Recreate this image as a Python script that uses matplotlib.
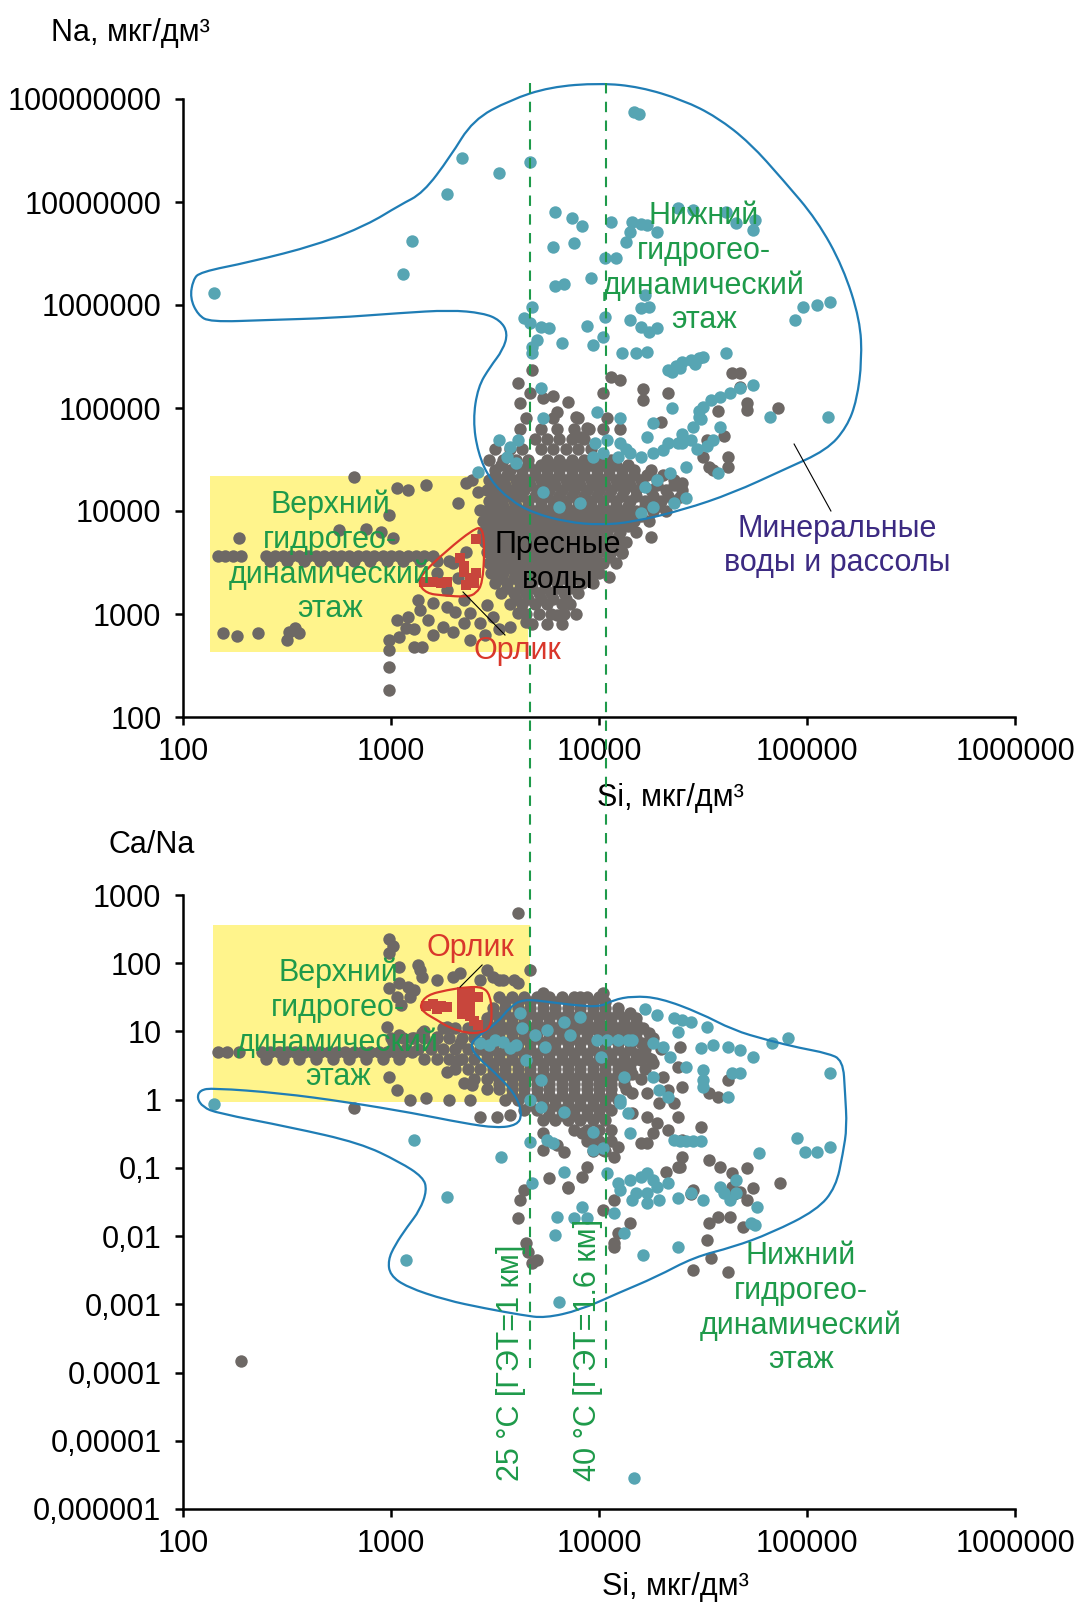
import numpy as np
import matplotlib.pyplot as plt
from matplotlib.lines import Line2D
from matplotlib.path import Path
from matplotlib.patches import PathPatch

plt.rcParams['font.family'] = ['Liberation Sans', 'DejaVu Sans']

# all values as log10 of the plotted quantity
# ---------------- upper chart: Si vs Na ----------------
top_cloud_rows = [  # (log Na, [log Si ...]) - dense grey cloud of fresh waters
    (4.9, [3.65, 3.78, 3.90, 4.04]),
    (4.8, [3.62, 3.72, 3.80, 3.88, 3.95, 4.02, 4.10]),
    (4.7, [3.69, 3.75, 3.81, 3.87, 3.93]),
    (4.6, [3.50, 3.57, 3.63, 3.72, 3.78, 3.84, 3.90, 3.96]),
    (4.5, [3.47, 3.54, 3.60, 3.66, 3.75, 3.81, 3.87, 3.93, 4.00, 4.06]),
    (4.45, [3.53, 3.60, 3.66, 3.72, 3.78, 3.84, 3.90, 3.96, 4.02, 4.08, 4.14]),
    (4.4, [3.50, 3.57, 3.63, 3.69, 3.75, 3.81, 3.87, 3.93, 3.99, 4.05, 4.11, 4.17, 4.25]),
    (4.35, [3.50, 3.56, 3.63, 3.69, 3.75, 3.81, 3.87, 3.93, 3.99, 4.05, 4.11, 4.17, 4.23, 4.31]),
    (4.3, [3.47, 3.53, 3.60, 3.66, 3.72, 3.78, 3.84, 3.90, 3.96, 4.02, 4.08, 4.14, 4.20, 4.28, 4.36]),
    (4.25, [3.49, 3.55, 3.61, 3.67, 3.73, 3.79, 3.85, 3.91, 3.97, 4.03, 4.09, 4.15, 4.21, 4.28, 4.36]),
    (4.2, [3.46, 3.52, 3.58, 3.64, 3.70, 3.76, 3.82, 3.88, 3.94, 4.00, 4.06, 4.12, 4.18, 4.25, 4.32, 4.40]),
    (4.15, [3.50, 3.56, 3.62, 3.69, 3.75, 3.81, 3.87, 3.93, 3.99, 4.05, 4.11, 4.18, 4.26, 4.33]),
    (4.1, [3.47, 3.53, 3.59, 3.66, 3.72, 3.78, 3.84, 3.90, 3.96, 4.02, 4.08, 4.15, 4.22, 4.30, 4.36]),
    (4.05, [3.48, 3.54, 3.60, 3.66, 3.72, 3.78, 3.84, 3.90, 3.96, 4.02, 4.08, 4.14, 4.22, 4.29]),
    (4.0, [3.45, 3.51, 3.57, 3.63, 3.69, 3.75, 3.81, 3.87, 3.93, 3.99, 4.05, 4.11, 4.18, 4.26, 4.32]),
    (3.95, [3.47, 3.53, 3.59, 3.65, 3.71, 3.77, 3.83, 3.89, 3.95, 4.01, 4.07, 4.14, 4.20]),
    (3.9, [3.44, 3.50, 3.56, 3.62, 3.68, 3.74, 3.80, 3.86, 3.92, 3.98, 4.04, 4.10, 4.17, 4.24]),
    (3.85, [3.47, 3.53, 3.59, 3.65, 3.71, 3.77, 3.83, 3.89, 3.95, 4.01, 4.07, 4.14]),
    (3.8, [3.44, 3.50, 3.56, 3.62, 3.68, 3.74, 3.80, 3.86, 3.92, 3.98, 4.04, 4.10, 4.18]),
    (3.75, [3.48, 3.54, 3.60, 3.66, 3.72, 3.78, 3.84, 3.90, 3.96, 4.02, 4.09]),
    (3.7, [3.45, 3.51, 3.57, 3.63, 3.69, 3.75, 3.81, 3.87, 3.93, 3.99, 4.05, 4.13]),
    (3.65, [3.49, 3.55, 3.61, 3.67, 3.73, 3.79, 3.85, 3.91, 3.97, 4.03, 4.08]),
    (3.6, [3.46, 3.52, 3.58, 3.64, 3.70, 3.76, 3.82, 3.88, 3.94, 4.00, 4.06, 4.11]),
    (3.55, [3.50, 3.56, 3.62, 3.68, 3.74, 3.80, 3.86, 3.92, 3.98, 4.05]),
    (3.5, [3.47, 3.53, 3.59, 3.65, 3.71, 3.77, 3.83, 3.89, 3.95, 4.02, 4.08]),
    (3.45, [3.51, 3.57, 3.63, 3.69, 3.75, 3.81, 3.87, 3.93, 3.98]),
    (3.4, [3.48, 3.54, 3.60, 3.66, 3.72, 3.78, 3.84, 3.90, 3.96, 4.00]),
    (3.35, [3.53, 3.59, 3.65, 3.71, 3.77, 3.83, 3.89, 3.94]),
    (3.3, [3.50, 3.56, 3.62, 3.68, 3.74, 3.80, 3.86, 3.92, 3.97]),
    (3.25, [3.56, 3.62, 3.68, 3.74, 3.80, 3.86]),
    (3.2, [3.53, 3.59, 3.65, 3.71, 3.77, 3.83, 3.90]),
    (3.15, [3.60, 3.66, 3.72, 3.78, 3.84]),
    (3.1, [3.57, 3.63, 3.69, 3.75, 3.82, 3.86]),
    (3.0, [3.65, 3.71, 3.77, 3.83, 3.89]),
    (2.9, [3.68, 3.75, 3.82]),
]
top_band_rows = [  # horizontal band inside the yellow field
    (3.56, [2.17, 2.20, 2.24, 2.28, 2.40, 2.44, 2.48, 2.52, 2.56, 2.60, 2.64, 2.68, 2.72,
            2.76, 2.80, 2.84, 2.88, 2.92, 2.96, 3.00, 3.04, 3.08, 3.12, 3.16, 3.20]),
    (3.51, [2.42, 2.50, 2.58, 2.66, 2.74, 2.82, 2.90, 2.98, 3.06, 3.14, 3.22, 3.28]),
]
top_gray_pts = [  # (log Si, log Na)
    (2.82, 4.33), (3.03, 4.22), (3.08, 4.20), (3.17, 4.25), (2.99, 3.96), (3.01, 3.74),
    (2.75, 3.82), (2.88, 3.83), (2.95, 3.80), (2.27, 3.74),
    (3.32, 4.08), (3.36, 4.27), (3.39, 4.30), (3.43, 4.01), (3.42, 4.18),
    (3.30, 3.50), (3.36, 3.60), (3.32, 3.35),
    (2.19, 2.82), (2.26, 2.79), (2.36, 2.82), (2.51, 2.83), (2.56, 2.82), (2.50, 2.75), (2.54, 2.86),
    (2.99, 2.75), (2.99, 2.65), (2.99, 2.49), (2.99, 2.26),
    (3.04, 2.78), (3.11, 2.85), (3.15, 2.68), (3.20, 2.80), (3.25, 2.87), (3.30, 2.83), (3.35, 2.91),
    (3.38, 3.01), (3.43, 2.91), (3.49, 2.97), (3.52, 2.85), (3.20, 3.11), (3.27, 3.07), (3.14, 3.04),
    (3.08, 2.97), (3.03, 2.94), (3.11, 2.68), (3.22, 3.40), (3.27, 3.23), (3.35, 3.14), (3.13, 3.14),
    (3.18, 2.94), (3.07, 2.86), (3.31, 3.02), (3.38, 2.75), (3.45, 2.80), (3.46, 3.09), (3.57, 2.87),
    (3.65, 2.92), (3.61, 3.01), (3.80, 2.99),
    (3.61, 5.24), (3.62, 5.05), (3.67, 5.15), (3.68, 5.37), (3.85, 5.06), (3.80, 4.96), (3.89, 4.91),
    (3.94, 4.81), (3.91, 4.72), (4.02, 5.15), (4.06, 5.30), (4.10, 5.27), (4.21, 5.18), (4.21, 5.08),
    (4.33, 5.15), (4.30, 4.86), (4.40, 4.69), (4.52, 4.69), (4.53, 4.43), (4.55, 4.40), (4.62, 4.52),
    (4.62, 4.43), (4.64, 5.34), (4.68, 5.34), (4.68, 5.20), (4.86, 5.00), (4.71, 5.05), (4.71, 4.98),
    (4.40, 4.27), (4.39, 4.14), (4.25, 3.75), (4.11, 3.59), (4.05, 3.36),
    (3.73, 5.10), (3.78, 5.12), (4.57, 4.97), (4.60, 4.73), (4.50, 4.52),
]
top_teal_pts = [
    (2.15, 6.12), (3.06, 6.30), (3.10, 6.62), (3.27, 7.08), (3.34, 7.43), (3.52, 7.28), (3.67, 7.39),
    (4.17, 7.87), (4.19, 7.85),
    (3.79, 6.90), (3.87, 6.84), (3.92, 6.77), (3.78, 6.56), (3.88, 6.60), (3.79, 6.18), (3.83, 6.20),
    (3.96, 6.26), (4.06, 6.81), (4.03, 6.46), (4.08, 6.46), (4.16, 6.81), (4.20, 6.79), (4.23, 6.78),
    (4.15, 6.71), (4.13, 6.61), (4.28, 6.71),
    (4.38, 6.94), (4.45, 6.92), (4.61, 6.90), (4.66, 6.80), (4.74, 6.73), (4.75, 6.83),
    (4.22, 6.10), (4.20, 5.97), (4.24, 5.98), (4.15, 5.85), (4.20, 5.79), (4.24, 5.74), (4.28, 5.78),
    (4.11, 5.53), (4.18, 5.53), (4.23, 5.54),
    (4.03, 5.88), (4.02, 5.69), (3.94, 5.80), (3.97, 5.61), (3.82, 5.63),
    (3.68, 5.98), (3.64, 5.87), (3.67, 5.83), (3.72, 5.79), (3.76, 5.78), (3.70, 5.66), (3.68, 5.53),
    (3.68, 5.59),
    (4.98, 5.98), (5.05, 6.00), (5.11, 6.03), (4.94, 5.85), (4.61, 5.53),
    (4.33, 5.37), (4.37, 5.41), (4.40, 5.45), (4.44, 5.47), (4.48, 5.49), (4.50, 5.50), (4.35, 5.35),
    (4.39, 5.39), (4.46, 5.43),
    (4.74, 5.22), (4.68, 5.19), (4.63, 5.15), (4.58, 5.11), (4.54, 5.08), (4.50, 5.01), (4.48, 4.91),
    (4.45, 4.82), (4.44, 4.69), (4.40, 4.66),
    (4.38, 4.66), (4.31, 4.59), (4.26, 4.56), (4.20, 4.52), (4.15, 4.56), (4.09, 4.52), (4.02, 4.56),
    (3.97, 4.52), (4.23, 4.72), (4.26, 4.85),
    (4.10, 4.90), (3.99, 4.96), (4.35, 5.00), (4.82, 4.91), (5.10, 4.91), (3.73, 4.90), (3.72, 5.19),
    (3.52, 4.69), (3.57, 4.62), (3.61, 4.69), (3.56, 4.52), (3.60, 4.47), (3.42, 4.38),
    (3.73, 4.18), (3.81, 4.04), (3.91, 4.08),
    (4.22, 4.23), (4.28, 4.30), (4.34, 4.37), (4.42, 4.43), (4.57, 4.37), (4.58, 4.82),
    (4.20, 3.98), (4.26, 4.04), (4.36, 4.08), (4.42, 4.13),
    (4.48, 4.97), (4.49, 4.89), (4.40, 4.75), (4.33, 4.66), (4.47, 4.60), (4.52, 4.63), (4.55, 4.69),
    (3.98, 4.66), (4.04, 4.69), (4.10, 4.66), (4.13, 4.60),
]
top_orlik_pts = [
    (3.16, 3.31), (3.20, 3.31), (3.24, 3.30), (3.27, 3.31),
    (3.33, 3.54), (3.35, 3.47), (3.35, 3.41), (3.38, 3.35), (3.40, 3.30), (3.36, 3.28),
    (3.41, 3.40), (3.41, 3.73),
]
top_contour = [
    (2.048, 6.243), (2.082, 6.320), (2.322, 6.417), (2.644, 6.583), (2.885, 6.777), (3.043, 6.971),
    (3.154, 7.087), (3.284, 7.437), (3.394, 7.796), (3.572, 7.990), (3.764, 8.117), (4.005, 8.155),
    (4.197, 8.117), (4.404, 7.990), (4.567, 7.825), (4.726, 7.573), (4.885, 7.214), (5.048, 6.825),
    (5.173, 6.369), (5.255, 5.854), (5.264, 5.466), (5.240, 5.078), (5.192, 4.816), (5.096, 4.592),
    (4.885, 4.398), (4.644, 4.175), (4.404, 4.010), (4.163, 3.893), (4.005, 3.864), (3.846, 3.893),
    (3.683, 3.981), (3.572, 4.107), (3.476, 4.301), (3.418, 4.563), (3.394, 4.883), (3.418, 5.204),
    (3.476, 5.398), (3.538, 5.563), (3.562, 5.728), (3.524, 5.854), (3.442, 5.922), (3.284, 5.951),
    (3.043, 5.922), (2.721, 5.874), (2.404, 5.854), (2.130, 5.835), (2.072, 5.903), (2.034, 6.068),
]
top_orlik_contour = [
    (3.13, 3.30), (3.154, 3.40), (3.27, 3.62), (3.394, 3.82), (3.44, 3.845), (3.45, 3.62),
    (3.44, 3.30), (3.41, 3.20), (3.365, 3.165), (3.25, 3.18), (3.17, 3.20),
]
top_yellow = (2.13, 3.66, 2.631, 4.34)

# ---------------- lower chart: Si vs Ca/Na ----------------
bot_cloud_rows = [  # (log Ca/Na, [log Si ...])
    (1.5, [3.03, 3.09, 3.52, 3.58, 3.64, 3.70, 3.76, 3.82, 3.88, 3.94, 4.00]),
    (1.425, [3.55, 3.61, 3.67, 3.73, 3.79, 3.85, 3.91, 3.97, 4.03]),
    (1.35, [3.49, 3.55, 3.61, 3.67, 3.73, 3.79, 3.85, 3.91, 3.97, 4.03, 4.09]),
    (1.275, [3.49, 3.55, 3.61, 3.67, 3.73, 3.79, 3.85, 3.91, 3.97, 4.03, 4.09, 4.15]),
    (1.2, [3.46, 3.52, 3.58, 3.64, 3.70, 3.76, 3.82, 3.88, 3.94, 4.00, 4.06, 4.12, 4.18]),
    (1.125, [3.46, 3.52, 3.58, 3.64, 3.70, 3.76, 3.82, 3.88, 3.94, 4.00, 4.06, 4.12, 4.18]),
    (1.05, [3.25, 3.31, 3.37, 3.43, 3.49, 3.55, 3.61, 3.67, 3.73, 3.79, 3.85, 3.91, 3.97, 4.03,
            4.09, 4.15, 4.21]),
    (0.975, [3.40, 3.46, 3.52, 3.58, 3.64, 3.70, 3.76, 3.82, 3.88, 3.94, 4.00, 4.06, 4.12, 4.18,
             4.24]),
    (0.9, [3.00, 3.06, 3.11, 3.16, 3.22, 3.28, 3.34, 3.40, 3.46, 3.52, 3.58, 3.64, 3.70, 3.76,
           3.82, 3.88, 3.94, 4.00, 4.06, 4.12, 4.18, 4.26]),
    (0.825, [3.43, 3.49, 3.55, 3.61, 3.67, 3.73, 3.79, 3.85, 3.91, 3.97, 4.03, 4.09, 4.15, 4.22]),
    (0.75, [3.01, 3.07, 3.13, 3.19, 3.25, 3.31, 3.37, 3.43, 3.49, 3.55, 3.61, 3.67, 3.73, 3.79,
            3.85, 3.91, 3.97, 4.03, 4.09, 4.15, 4.22, 4.30]),
    (0.675, [3.46, 3.52, 3.58, 3.64, 3.70, 3.76, 3.82, 3.88, 3.94, 4.00, 4.06, 4.12, 4.18]),
    (0.6, [3.16, 3.22, 3.28, 3.34, 3.40, 3.46, 3.52, 3.58, 3.64, 3.70, 3.76, 3.82, 3.88, 3.94,
           4.00, 4.06, 4.12, 4.18, 4.25]),
    (0.525, [3.49, 3.55, 3.61, 3.67, 3.73, 3.79, 3.85, 3.91, 3.97, 4.03, 4.09, 4.15]),
    (0.45, [3.31, 3.37, 3.43, 3.49, 3.55, 3.61, 3.67, 3.73, 3.79, 3.85, 3.91, 3.97, 4.03, 4.09,
            4.15, 4.22]),
    (0.375, [3.49, 3.55, 3.61, 3.67, 3.73, 3.79, 3.85, 3.91, 3.97, 4.03, 4.09, 4.16]),
    (0.3, [3.40, 3.46, 3.52, 3.58, 3.64, 3.70, 3.76, 3.82, 3.88, 3.94, 4.00, 4.06, 4.12, 4.20]),
    (0.225, [3.52, 3.58, 3.64, 3.70, 3.76, 3.82, 3.88, 3.94, 4.00, 4.06, 4.12]),
    (0.15, [3.46, 3.52, 3.58, 3.64, 3.70, 3.76, 3.82, 3.88, 3.94, 4.00, 4.06, 4.13]),
    (0.075, [3.58, 3.64, 3.70, 3.76, 3.82, 3.88, 3.94, 4.00, 4.06]),
    (0.0, [3.55, 3.61, 3.67, 3.73, 3.79, 3.85, 3.91, 3.97, 4.03, 4.09]),
    (-0.075, [3.67, 3.73, 3.79, 3.85, 3.91, 3.97, 4.03]),
    (-0.15, [3.64, 3.70, 3.76, 3.82, 3.88, 3.94, 4.00, 4.06]),
    (-0.225, [3.76, 3.82, 3.88, 3.94, 4.00]),
    (-0.3, [3.73, 3.79, 3.85, 3.91, 3.97, 4.03]),
    (-0.45, [3.88, 3.94, 4.00, 4.06]),
    (-0.6, [3.94, 4.00, 4.06]),
    (-0.75, [3.97, 4.03]),
]
bot_band_rows = [
    (0.70, [2.17, 2.21, 2.27, 2.38, 2.42, 2.46, 2.50, 2.54, 2.58, 2.62, 2.66, 2.70, 2.74, 2.78,
            2.82, 2.86, 2.90, 2.94, 2.98, 3.02, 3.06, 3.10]),
    (0.60, [2.40, 2.48, 2.56, 2.64, 2.72, 2.80, 2.88, 2.96, 3.04]),
]
bot_gray_pts = [  # (log Si, log Ca/Na)
    (3.61, 2.74), (2.99, 2.36), (2.99, 2.15), (3.01, 2.25), (3.13, 1.97),
    (2.99, 1.64), (3.04, 1.71), (3.08, 1.65), (3.11, 1.61), (3.05, 1.39),
    (3.15, 1.80), (3.22, 1.75), (3.30, 1.80), (3.43, 1.75), (3.49, 1.80), (3.54, 1.75), (3.59, 1.75),
    (3.67, 1.90), (3.04, 1.94), (3.14, 1.90), (3.33, 1.86), (3.46, 1.90), (3.52, 1.75), (3.61, 1.71),
    (3.91, 1.50), (4.02, 1.56), (3.73, 1.56),
    (3.15, 0.98), (3.22, 0.92), (3.27, 1.07), (3.33, 0.83), (3.32, 0.58),
    (2.99, 0.33), (3.03, 0.14), (3.09, -0.01), (3.17, 0.02), (3.27, 0.41), (3.28, -0.01), (3.38, -0.01),
    (3.35, 0.24), (3.39, 0.21), (3.43, -0.26), (3.51, -0.26), (3.57, -0.23), (2.82, -0.12),
    (2.98, 1.06), (3.04, 0.95), (3.10, 0.90), (3.16, 1.00), (3.01, 0.85), (3.20, 0.80),
    (3.73, -0.49), (3.80, -0.67), (3.83, -0.77), (3.92, -0.49), (3.97, -0.64), (3.94, -0.99),
    (3.92, -1.14), (3.85, -1.28), (4.02, -0.74), (4.07, -0.84), (4.09, -0.70), (4.02, -1.62),
    (4.07, -1.47), (4.15, -1.81), (4.09, -1.96), (4.07, -2.16), (3.64, -1.33), (3.62, -1.47),
    (3.61, -1.74), (3.65, -2.10), (3.68, -2.40), (3.73, -0.74), (3.66, -2.24), (3.70, -2.35),
    (3.76, -1.15), (3.85, -1.30), (4.07, -2.10),
    (4.16, -0.20), (4.23, -0.26), (4.28, -0.34), (4.26, -0.49), (4.23, -0.64), (4.20, -0.64),
    (4.33, -0.45), (4.38, -0.26), (4.36, -0.05), (4.29, -0.05), (4.23, 0.10),
    (4.16, 1.02), (4.20, 0.83), (4.23, 0.63), (4.26, 0.54), (4.31, 0.33), (4.33, 0.14), (4.40, 0.19),
    (4.38, 0.48), (4.20, 0.58), (4.14, 0.48), (4.16, 0.10), (4.39, 0.77),
    (4.40, -0.59), (4.49, -0.40), (4.40, -0.84), (4.38, -0.99), (4.53, 0.10), (4.57, 0.04), (4.62, 0.29),
    (4.53, -0.89), (4.58, -0.99), (4.64, -1.08), (4.71, -1.00), (4.71, -1.47), (4.64, -1.28),
    (4.57, -1.72), (4.53, -1.81), (4.63, -1.72), (4.69, -1.87), (4.52, -2.06), (4.45, -1.33),
    (4.87, -1.22), (4.45, -2.50), (4.54, -2.32), (4.62, -2.53),
    (4.44, -1.38), (4.39, -0.99), (4.32, -1.06), (4.65, -1.39), (4.74, -1.30), (4.68, -1.35),
    (2.28, -3.83),
]
bot_teal_pts = [
    (2.15, -0.07), (3.11, -0.59), (3.53, -0.84), (3.27, -1.43), (3.07, -2.35), (3.81, -2.97),
    (4.17, -5.55),
    (3.67, -0.62), (3.68, -1.22), (3.83, -1.06), (3.92, -1.58), (3.80, -1.72), (3.88, -1.74),
    (3.94, -1.74), (3.79, -1.99),
    (3.97, -0.48), (3.97, -0.74), (4.02, -0.71), (3.75, -0.59), (3.78, -0.64),
    (4.04, -1.08), (4.09, -1.22), (4.07, -1.66), (4.12, -1.96), (4.21, -2.28),
    (4.15, -1.18), (4.20, -1.14), (4.23, -1.08), (4.26, -1.18), (4.18, -1.37), (4.23, -1.37),
    (4.28, -1.28), (4.33, -1.22), (4.23, -1.52), (4.29, -1.47), (4.16, -1.47), (4.38, -1.44),
    (4.44, -1.37), (4.50, -1.47), (4.10, -1.33),
    (4.38, -2.16),
    (4.58, -1.28), (4.60, -1.37), (4.63, -1.47), (4.66, -1.37), (4.73, -1.81), (4.75, -1.84),
    (4.76, -1.58), (4.66, -1.18),
    (4.77, -0.78), (4.95, -0.56), (4.99, -0.77), (5.05, -0.77), (5.11, -0.70), (5.11, 0.39),
    (4.83, 0.83), (4.91, 0.90),
    (4.68, 0.39), (4.62, 0.04), (4.50, 0.29), (4.50, 0.19),
    (4.36, -0.59), (4.39, -0.60), (4.42, -0.60), (4.45, -0.60), (4.49, -0.60),
    (4.10, -0.05), (4.14, -0.20), (4.15, -0.49),
    (4.22, 1.33), (4.28, 1.24), (4.36, 1.20), (4.40, 1.17), (4.44, 1.14), (4.52, 1.07), (4.38, 0.99),
    (3.99, 0.87), (4.04, 0.87), (4.09, 0.87), (4.14, 0.87), (4.16, 0.87),
    (4.26, 0.83), (4.31, 0.77), (4.34, 0.63),
    (4.49, 0.76), (4.55, 0.80), (4.62, 0.77), (4.68, 0.73), (4.74, 0.63),
    (4.42, 0.48), (4.50, 0.43), (4.64, 0.39),
    (4.12, 0.33), (4.10, -0.01), (4.26, 0.33), (4.29, 0.14), (4.33, 0.04),
    (3.83, 1.14), (3.91, 1.21), (3.75, 1.02), (3.74, 0.77), (3.62, 1.27), (3.54, 0.85), (3.57, 0.76),
    (3.43, 0.83), (3.65, 0.58),
    (3.72, 0.29), (4.01, 0.63), (3.67, -0.01), (3.72, -0.11), (3.83, -0.18),
    (3.50, 0.87), (3.60, 0.80), (3.63, 1.05), (3.69, 0.95), (3.86, 0.95), (3.47, 0.80),
]
bot_orlik_pts = [
    (3.17, 1.38), (3.20, 1.40), (3.24, 1.38), (3.27, 1.36), (3.22, 1.33),
    (3.34, 1.58), (3.38, 1.58), (3.34, 1.48), (3.38, 1.45), (3.42, 1.50), (3.34, 1.38),
    (3.38, 1.35), (3.34, 1.26), (3.38, 1.22), (3.42, 1.10), (3.40, 1.15),
]
bot_contour = [
    (2.067, 0.023), (2.082, 0.141), (2.144, 0.170), (2.466, 0.097), (2.788, -0.035), (3.106, -0.196),
    (3.346, -0.343), (3.510, -0.416), (3.606, -0.372), (3.630, -0.226), (3.606, 0.038), (3.524, 0.331),
    (3.413, 0.625), (3.380, 0.801), (3.413, 0.918), (3.510, 1.123), (3.572, 1.358), (3.635, 1.475),
    (3.764, 1.431), (3.875, 1.387), (4.005, 1.358), (4.067, 1.460), (4.163, 1.519), (4.293, 1.490),
    (4.486, 1.270), (4.644, 1.021), (4.808, 0.874), (4.966, 0.757), (5.096, 0.683), (5.173, 0.581),
    (5.183, 0.097), (5.192, -0.402), (5.173, -0.783), (5.139, -1.282), (5.048, -1.619),
    (4.827, -1.956), (4.644, -2.161), (4.457, -2.308), (4.274, -2.601), (4.091, -2.836),
    (3.909, -3.085), (3.740, -3.202), (3.630, -3.158), (3.447, -3.056), (3.264, -2.938),
    (3.077, -2.748), (2.995, -2.572), (2.986, -2.352), (3.019, -2.132), (3.077, -1.868),
    (3.139, -1.619), (3.173, -1.326), (3.154, -1.135), (3.043, -0.915), (2.851, -0.636),
    (2.514, -0.402), (2.163, -0.196), (2.096, -0.109),
]
bot_orlik_contour = [
    (3.139, 1.387), (3.173, 1.534), (3.269, 1.607), (3.365, 1.651), (3.442, 1.651), (3.476, 1.534),
    (3.486, 1.270), (3.476, 1.050), (3.428, 0.977), (3.365, 0.977), (3.284, 1.050), (3.221, 1.167),
    (3.154, 1.284),
]
bot_yellow = (2.144, 3.668, -0.035, 2.56)

# temperature lines (log Si) and their labels
temp_si = [3.668, 4.034]
temp_labels = ['25 °C [ГЭТ=1 км]', '40 °C [ГЭТ=1.6 км]']

GRAY = '#6d6865'
TEAL = '#57a5b3'
BLUE = '#1f7db5'
GREEN = '#1e9a4a'
RED = '#d9372b'
ORLIK = '#c8463c'
PURPLE = '#3c2a82'
YELLOW = '#fff48c'
FS = 22
DOT = 80


def expand_rows(rows):
    xs, ys = [], []
    for yv, row in rows:
        xs += row
        ys += [yv] * len(row)
    return xs, ys


def unzip(pts):
    return [p[0] for p in pts], [p[1] for p in pts]


def smooth_loop(pts):
    # closed quadratic spline through the midpoints, built in log space
    lx = np.array([p[0] for p in pts])
    ly = np.array([p[1] for p in pts])
    mx = (lx + np.roll(lx, -1)) / 2
    my = (ly + np.roll(ly, -1)) / 2
    verts = [(mx[-1], my[-1])]
    codes = [Path.MOVETO]
    for i in range(len(lx)):
        verts += [(lx[i], ly[i]), (mx[i], my[i])]
        codes += [Path.CURVE3, Path.CURVE3]
    return Path(10 ** np.array(verts), codes)


def scatter_log(ax, xs, ys, color, marker='o', s=DOT, z=2):
    ax.scatter(10 ** np.array(xs), 10 ** np.array(ys), s=s, c=color, marker=marker,
               linewidths=0, zorder=z)


def setup_axis(ax, ylo, yhi, ylabels):
    ax.set_xscale('log')
    ax.set_yscale('log')
    ax.set_xlim(1e2, 1e6)
    ax.set_ylim(10.0 ** ylo, 10.0 ** yhi)
    ax.set_xticks([10.0 ** k for k in range(2, 7)])
    ax.set_xticklabels([str(10 ** k) for k in range(2, 7)])
    ax.set_yticks([10.0 ** k for k in range(ylo, yhi + 1)])
    ax.set_yticklabels(ylabels)
    ax.minorticks_off()
    for sp in ['top', 'right']:
        ax.spines[sp].set_visible(False)
    for sp in ['left', 'bottom']:
        ax.spines[sp].set_linewidth(1.8)
    ax.tick_params(axis='both', direction='out', length=5.5, width=1.8, labelsize=FS)
    ax.tick_params(axis='y', pad=10)
    ax.tick_params(axis='x', pad=9)


fig = plt.figure(figsize=(10.78, 16.04), dpi=100)
W, H = 1078, 1604
ax1 = fig.add_axes([183 / W, 1 - 717 / H, 832 / W, 618 / H])
ax2 = fig.add_axes([183 / W, 1 - 1509 / H, 832 / W, 614 / H])

setup_axis(ax1, 2, 8, [str(10 ** k) for k in range(2, 9)])
setup_axis(ax2, -6, 3, ['0,000001', '0,00001', '0,0001', '0,001', '0,01', '0,1',
                        '1', '10', '100', '1000'])

for ax, yb in [(ax1, top_yellow), (ax2, bot_yellow)]:
    x0, x1, y0, y1 = [10 ** v for v in yb]
    ax.fill([x0, x1, x1, x0], [y0, y0, y1, y1], color=YELLOW, lw=0, zorder=1)

# upper chart marks
for rows in [top_cloud_rows, top_band_rows]:
    xs, ys = expand_rows(rows)
    scatter_log(ax1, xs, ys, GRAY)
scatter_log(ax1, *unzip(top_gray_pts), GRAY)
scatter_log(ax1, *unzip(top_teal_pts), TEAL, z=3)
scatter_log(ax1, *unzip(top_orlik_pts), ORLIK, marker='s', s=60, z=4)
ax1.add_patch(PathPatch(smooth_loop(top_contour), fill=False, ec=BLUE, lw=1.6, zorder=5,
                        clip_on=False))
ax1.add_patch(PathPatch(smooth_loop(top_orlik_contour), fill=False, ec=RED, lw=1.6, zorder=5))

# lower chart marks
for rows in [bot_cloud_rows, bot_band_rows]:
    xs, ys = expand_rows(rows)
    scatter_log(ax2, xs, ys, GRAY)
scatter_log(ax2, *unzip(bot_gray_pts), GRAY)
scatter_log(ax2, *unzip(bot_teal_pts), TEAL, z=3)
scatter_log(ax2, *unzip(bot_orlik_pts), ORLIK, marker='s', s=60, z=4)
ax2.add_patch(PathPatch(smooth_loop(bot_contour), fill=False, ec=BLUE, lw=1.6, zorder=5,
                        clip_on=False))
ax2.add_patch(PathPatch(smooth_loop(bot_orlik_contour), fill=False, ec=RED, lw=1.6, zorder=5))

# labels inside the charts
txt = dict(ha='center', va='center', fontsize=FS, linespacing=1.2, zorder=7)
layer = 'Верхний\nгидрогео-\nдинамический\nэтаж'
lower_layer = 'Нижний\nгидрогео-\nдинамический\nэтаж'
ax1.text(10 ** 2.707, 10 ** 3.553, layer, color=GREEN, **txt)
ax1.text(10 ** 4.505, 10 ** 6.357, lower_layer, color=GREEN, **txt)
ax1.text(10 ** 3.80, 10 ** 3.50, 'Пресные\nводы', color='black', **txt)
ax1.text(10 ** 5.144, 10 ** 3.66, 'Минеральные\nводы и рассолы', color=PURPLE, **txt)
ax1.text(10 ** 3.606, 10 ** 2.64, 'Орлик', color=RED, **txt)
ax1.plot([10 ** 4.938, 10 ** 5.115], [10 ** 4.65, 10 ** 4.0], color='black', lw=0.8, zorder=6)
ax1.plot([10 ** 3.346, 10 ** 3.548], [10 ** 3.214, 10 ** 2.796], color='black', lw=0.8, zorder=6)

ax2.text(10 ** 3.38, 10 ** 2.223, 'Орлик', color=RED, **txt)
ax2.plot([10 ** 3.332, 10 ** 3.438], [10 ** 1.651, 10 ** 1.974], color='black', lw=0.8, zorder=6)
ax2.text(10 ** 2.745, 10 ** 1.094, layer, color=GREEN, **txt)
ax2.text(10 ** 4.971, 10 ** -3.056, lower_layer, color=GREEN, **txt)
for xv, lab, xt in zip(temp_si, temp_labels, [3.577, 3.947]):
    ax2.text(10 ** xt, 10 ** -5.592, lab, color=GREEN, rotation=90, ha='center', va='bottom',
             fontsize=FS, zorder=7)

# dashed temperature lines run through both charts
for xv in temp_si:
    xd = ax1.transData.transform((10 ** xv, 1000))[0]
    xf = fig.transFigure.inverted().transform((xd, 0))[0]
    fig.add_artist(Line2D([xf, xf], [1 - 83 / H, 1 - 1368 / H], transform=fig.transFigure,
                          color=GREEN, lw=1.5, ls=(0, (5, 4)), zorder=6))

# axis titles
fig.text(51 / W, 1 - 33 / H, 'Na, мкг/дм³', ha='left', va='center', fontsize=FS)
fig.text(670 / W, 1 - 798 / H, 'Si, мкг/дм³', ha='center', va='center', fontsize=FS)
fig.text(109 / W, 1 - 845 / H, 'Ca/Na', ha='left', va='center', fontsize=FS)
fig.text(675 / W, 1 - 1587 / H, 'Si, мкг/дм³', ha='center', va='center', fontsize=FS)

fig.savefig('out.png', dpi=100)
